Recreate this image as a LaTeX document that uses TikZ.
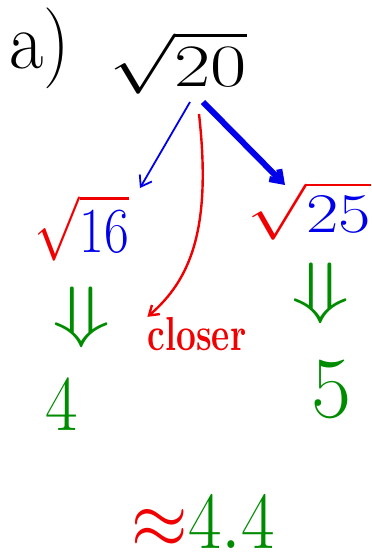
\documentclass[tikz,border=0pt]{standalone}
\usepackage{amsmath,amssymb}
\usepackage{xcolor}
\usetikzlibrary{arrows.meta,positioning}

\definecolor{inkgreen}{RGB}{0,140,0}
\definecolor{inkblue}{RGB}{0,0,235}
\definecolor{inkred}{RGB}{240,0,0}

\begin{document}
\begin{tikzpicture}[
		x=1pt, y=-1pt,
		hand/.style={inner sep=0pt, font=\huge},
		note/.style={inner sep=0pt, font=\huge\bfseries, text=inkred},
		wire/.style={-{Straight Barb[length=10pt, width=14pt]}, inkblue},
		redwire/.style={-{Straight Barb[length=9pt, width=12pt]}, inkred, line width=2.4pt}]

		\useasboundingbox (0,0) rectangle (372,557);

		% ── top line ──
		\node[hand, xscale=3.6, yscale=3.9] (label) at (40,48) {a)};
		\node[hand, xscale=3.8, yscale=2.9] (root20) at (178,63) {$\sqrt{20}$};

		% ── the two neighbours ──
		\node[hand, xscale=2.6, yscale=3.1] (root16) at (82,228)
			{$\textcolor{inkred}{\sqrt{\textcolor{inkblue}{16}}}$};
		\node[hand, xscale=3.4, yscale=2.7] (root25) at (309,211)
			{$\textcolor{inkred}{\sqrt{\textcolor{inkblue}{25}}}$};

		% ── results ──
		\node[hand, text=inkgreen, xscale=4.6, yscale=3.3] (imp16) at (82,317) {$\Downarrow$};
		\node[hand, text=inkgreen, xscale=4.6, yscale=3.3] (imp25) at (321,293) {$\Downarrow$};
		\node[hand, text=inkgreen, xscale=3.4, yscale=3.8] (four) at (62,404) {4};
		\node[hand, text=inkgreen, xscale=4.2, yscale=4.2] (five) at (331,389) {5};

		\node[note, xscale=1.7, yscale=2.3] (closer) at (197,334) {closer};

		% ── answer ──
		\node[hand, xscale=3.5, yscale=3.9] (answer) at (203,522)
			{$\textcolor{inkred}{\approx}\textcolor{inkgreen}{4.4}$};

		% ── arrows from sqrt 20 ──
		\coordinate (from16) at (190,102);
		\coordinate (from25) at (203,102);
		\coordinate (fromred) at (199,114);
		\coordinate (to16) at (140,188);
		\coordinate (to25) at (285,185);
		\draw[wire, line width=1.8pt] (from16) -- (to16);
		\draw[wire, line width=6pt] (from25) -- (to25);
		\draw[redwire] (fromred) .. controls (212,230) and (190,280) .. (closer.north west);
	\end{tikzpicture}
\end{document}
